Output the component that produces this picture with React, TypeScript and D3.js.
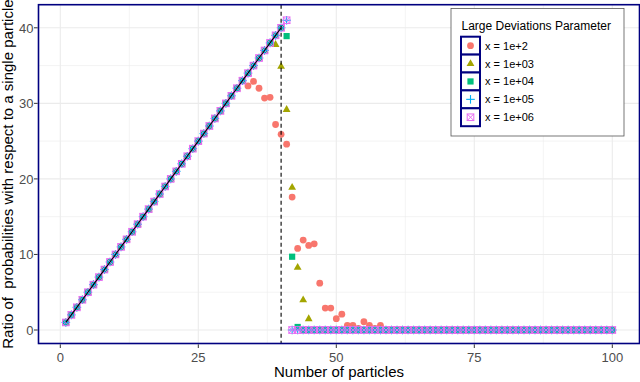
import React from "react";
import * as d3 from "d3";

// Number of particles (x) for every series
const particles = [
  1, 2, 3, 4, 5, 6, 7, 8, 9, 10,
  11, 12, 13, 14, 15, 16, 17, 18, 19, 20,
  21, 22, 23, 24, 25, 26, 27, 28, 29, 30,
  31, 32, 33, 34, 35, 36, 37, 38, 39, 40,
  41, 42, 43, 44, 45, 46, 47, 48, 49, 50,
  51, 52, 53, 54, 55, 56, 57, 58, 59, 60,
  61, 62, 63, 64, 65, 66, 67, 68, 69, 70,
  71, 72, 73, 74, 75, 76, 77, 78, 79, 80,
  81, 82, 83, 84, 85, 86, 87, 88, 89, 90,
  91, 92, 93, 94, 95, 96, 97, 98, 99, 100,
];

const ratio1e2 = [
  1, 2, 3, 4, 5, 6, 7, 8, 9, 10,
  11, 12, 13, 14, 15, 16, 17, 18, 19, 20,
  21, 22, 23, 24, 25, 26, 27, 28, 29, 30,
  31, 32, 33, 32.3, 32.9, 32.0, 30.7, 30.8, 27.2, 25.9,
  24.6, 17.6, 10.8, 11.9, 11.2, 11.4, 6.2, 2.9, 2.9, 1.5,
  2.1, 0.6, 0.6, 0.2, 1.1, 0.6, 0.2, 0.6, 0, 0,
  0, 0, 0, 0, 0, 0, 0, 0, 0, 0,
  0, 0, 0, 0, 0, 0, 0, 0, 0, 0,
  0, 0, 0, 0, 0, 0, 0, 0, 0, 0,
  0, 0, 0, 0, 0, 0, 0, 0, 0, 0,
];

const ratio1e3 = [
  1, 2, 3, 4, 5, 6, 7, 8, 9, 10,
  11, 12, 13, 14, 15, 16, 17, 18, 19, 20,
  21, 22, 23, 24, 25, 26, 27, 28, 29, 30,
  31, 32, 33, 34, 35, 36, 37, 38, 37.8, 34.9,
  29.2, 18.9, 8.3, 4.0, 1.5, 0, 0, 0, 0, 0,
  0, 0, 0, 0, 0, 0, 0, 0, 0, 0,
  0, 0, 0, 0, 0, 0, 0, 0, 0, 0,
  0, 0, 0, 0, 0, 0, 0, 0, 0, 0,
  0, 0, 0, 0, 0, 0, 0, 0, 0, 0,
  0, 0, 0, 0, 0, 0, 0, 0, 0, 0,
];

const ratio1e4 = [
  1, 2, 3, 4, 5, 6, 7, 8, 9, 10,
  11, 12, 13, 14, 15, 16, 17, 18, 19, 20,
  21, 22, 23, 24, 25, 26, 27, 28, 29, 30,
  31, 32, 33, 34, 35, 36, 37, 38, 39, 40,
  38.9, 9.7, 0.4, 0, 0, 0, 0, 0, 0, 0,
  0, 0, 0, 0, 0, 0, 0, 0, 0, 0,
  0, 0, 0, 0, 0, 0, 0, 0, 0, 0,
  0, 0, 0, 0, 0, 0, 0, 0, 0, 0,
  0, 0, 0, 0, 0, 0, 0, 0, 0, 0,
  0, 0, 0, 0, 0, 0, 0, 0, 0, 0,
];

const ratio1e5 = [
  1, 2, 3, 4, 5, 6, 7, 8, 9, 10,
  11, 12, 13, 14, 15, 16, 17, 18, 19, 20,
  21, 22, 23, 24, 25, 26, 27, 28, 29, 30,
  31, 32, 33, 34, 35, 36, 37, 38, 39, 40,
  41, 0, 0, 0, 0, 0, 0, 0, 0, 0,
  0, 0, 0, 0, 0, 0, 0, 0, 0, 0,
  0, 0, 0, 0, 0, 0, 0, 0, 0, 0,
  0, 0, 0, 0, 0, 0, 0, 0, 0, 0,
  0, 0, 0, 0, 0, 0, 0, 0, 0, 0,
  0, 0, 0, 0, 0, 0, 0, 0, 0, 0,
];

const ratio1e6 = [
  1, 2, 3, 4, 5, 6, 7, 8, 9, 10,
  11, 12, 13, 14, 15, 16, 17, 18, 19, 20,
  21, 22, 23, 24, 25, 26, 27, 28, 29, 30,
  31, 32, 33, 34, 35, 36, 37, 38, 39, 40,
  41, 0, 0, 0, 0, 0, 0, 0, 0, 0,
  0, 0, 0, 0, 0, 0, 0, 0, 0, 0,
  0, 0, 0, 0, 0, 0, 0, 0, 0, 0,
  0, 0, 0, 0, 0, 0, 0, 0, 0, 0,
  0, 0, 0, 0, 0, 0, 0, 0, 0, 0,
  0, 0, 0, 0, 0, 0, 0, 0, 0, 0,
];

// Theoretical linear reference (black line) for n = 1..40
const lineN = [
  1, 2, 3, 4, 5, 6, 7, 8, 9, 10,
  11, 12, 13, 14, 15, 16, 17, 18, 19, 20,
  21, 22, 23, 24, 25, 26, 27, 28, 29, 30,
  31, 32, 33, 34, 35, 36, 37, 38, 39, 40,
];
const lineRatio = [
  1, 2, 3, 4, 5, 6, 7, 8, 9, 10,
  11, 12, 13, 14, 15, 16, 17, 18, 19, 20,
  21, 22, 23, 24, 25, 26, 27, 28, 29, 30,
  31, 32, 33, 34, 35, 36, 37, 38, 39, 40,
];

const thresholdN = 40;

const seriesLabels = ["x = 1e+2", "x = 1e+03", "x = 1e+04", "x = 1e+05", "x = 1e+06"];
const seriesColors = ["#F8766D", "#A3A500", "#00BF7D", "#00B0F6", "#E76BF3"];
const seriesShapes = ["circle", "triangle", "square", "plus", "squarecross"];
const seriesValues = [ratio1e2, ratio1e3, ratio1e4, ratio1e5, ratio1e6];

const xTicks = [0, 25, 50, 75, 100];
const xMinor = [12.5, 37.5, 62.5, 87.5];
const yTicks = [0, 10, 20, 30, 40];
const yMinor = [5, 15, 25, 35];

const FONT = "'Liberation Sans', Arial, Helvetica, sans-serif";

function Marker({ shape, color, x, y }: { shape: string; color: string; x: number; y: number }) {
  switch (shape) {
    case "circle":
      return <circle cx={x} cy={y} r={3.4} fill={color} />;
    case "triangle":
      return (
        <polygon
          points={`${x},${y - 4.3} ${x + 3.9},${y + 2.5} ${x - 3.9},${y + 2.5}`}
          fill={color}
        />
      );
    case "square":
      return <rect x={x - 3.1} y={y - 3.1} width={6.2} height={6.2} fill={color} />;
    case "plus":
      return (
        <g stroke={color} strokeWidth={1.1}>
          <line x1={x - 4.3} x2={x + 4.3} y1={y} y2={y} />
          <line x1={x} x2={x} y1={y - 4.3} y2={y + 4.3} />
        </g>
      );
    case "squarecross":
      return (
        <g stroke={color} strokeWidth={1} fill="none">
          <rect x={x - 3.3} y={y - 3.3} width={6.6} height={6.6} />
          <line x1={x - 3.3} y1={y - 3.3} x2={x + 3.3} y2={y + 3.3} />
          <line x1={x - 3.3} y1={y + 3.3} x2={x + 3.3} y2={y - 3.3} />
        </g>
      );
    default:
      return null;
  }
}

export default function App() {
  const W = 640;
  const H = 382;
  const panel = { left: 38.5, right: 639.5, top: 4.7, bottom: 343.5 };

  const x = d3.scaleLinear().domain([0, 100]).range([60.3, 612.3]);
  const y = d3.scaleLinear().domain([0, 40]).range([330, 27.8]);

  const line = d3
    .line<number>()
    .x((_, i) => x(lineN[i]))
    .y((d) => y(d));

  const legend = { x: 451, y: 8.5, w: 173, h: 127.5 };
  const keyTop = 36.7;
  const keyH = 17.9;

  return (
    <svg
      width={W}
      height={H}
      style={{ position: "absolute", left: 0, top: 0, background: "white" }}
      fontFamily={FONT}
    >
      <rect x={0} y={0} width={W} height={H} fill="white" />
      {/* grid */}
      <g stroke="#ebebeb">
        {xMinor.map((t) => (
          <line key={"xm" + t} x1={x(t)} x2={x(t)} y1={panel.top} y2={panel.bottom} strokeWidth={0.6} />
        ))}
        {yMinor.map((t) => (
          <line key={"ym" + t} x1={panel.left} x2={panel.right} y1={y(t)} y2={y(t)} strokeWidth={0.6} />
        ))}
        {xTicks.map((t) => (
          <line key={"xM" + t} x1={x(t)} x2={x(t)} y1={panel.top} y2={panel.bottom} strokeWidth={1.1} />
        ))}
        {yTicks.map((t) => (
          <line key={"yM" + t} x1={panel.left} x2={panel.right} y1={y(t)} y2={y(t)} strokeWidth={1.1} />
        ))}
      </g>

      {/* points */}
      {seriesValues.map((vals, si) => (
        <g key={"s" + si}>
          {vals.map((v, i) => (
            <Marker
              key={i}
              shape={seriesShapes[si]}
              color={seriesColors[si]}
              x={x(particles[i])}
              y={y(v)}
            />
          ))}
        </g>
      ))}

      {/* reference line */}
      <path d={line(lineRatio) || ""} fill="none" stroke="black" strokeWidth={1.1} />

      {/* threshold */}
      <line
        x1={x(thresholdN)}
        x2={x(thresholdN)}
        y1={panel.top}
        y2={panel.bottom}
        stroke="black"
        strokeWidth={1.1}
        strokeDasharray="4 3"
      />

      {/* panel border */}
      <rect
        x={panel.left}
        y={panel.top}
        width={panel.right - panel.left}
        height={panel.bottom - panel.top}
        fill="none"
        stroke="#000080"
        strokeWidth={1.6}
      />

      {/* axes ticks and labels */}
      <g stroke="#333333" strokeWidth={1}>
        {xTicks.map((t) => (
          <line key={"xt" + t} x1={x(t)} x2={x(t)} y1={panel.bottom + 0.8} y2={panel.bottom + 4.5} />
        ))}
        {yTicks.map((t) => (
          <line key={"yt" + t} x1={panel.left - 4.5} x2={panel.left - 0.8} y1={y(t)} y2={y(t)} />
        ))}
      </g>
      <g fill="#4d4d4d" fontSize={13}>
        {xTicks.map((t) => (
          <text key={"xl" + t} x={x(t)} y={361.5} textAnchor="middle">
            {t}
          </text>
        ))}
        {yTicks.map((t) => (
          <text key={"yl" + t} x={33.5} y={y(t) + 4.7} textAnchor="end">
            {t}
          </text>
        ))}
      </g>
      <text x={(panel.left + panel.right) / 2} y={377} textAnchor="middle" fontSize={15} fill="black">
        Number of particles
      </text>
      <text
        transform={`translate(12.5, ${(panel.top + panel.bottom) / 2}) rotate(-90)`}
        textAnchor="middle"
        fontSize={15}
        fill="black"
        style={{ whiteSpace: "pre" }}
      >
        {"Ratio of  probabilities with respect to a single particle"}
      </text>

      {/* legend */}
      <rect x={legend.x} y={legend.y} width={legend.w} height={legend.h} fill="white" stroke="#555" strokeWidth={0.8} />
      <text x={461.5} y={29.5} fontSize={12} fill="black">
        Large Deviations Parameter
      </text>
      {seriesLabels.map((lab, i) => {
        const cy = keyTop + keyH * i + keyH / 2;
        return (
          <g key={"lg" + i}>
            <rect x={461} y={keyTop + keyH * i} width={19} height={keyH} fill="white" stroke="#000080" strokeWidth={2} />
            <Marker shape={seriesShapes[i]} color={seriesColors[i]} x={470.5} y={cy} />
            <text x={485} y={cy + 4} fontSize={11} fill="black">
              {lab}
            </text>
          </g>
        );
      })}
    </svg>
  );
}
